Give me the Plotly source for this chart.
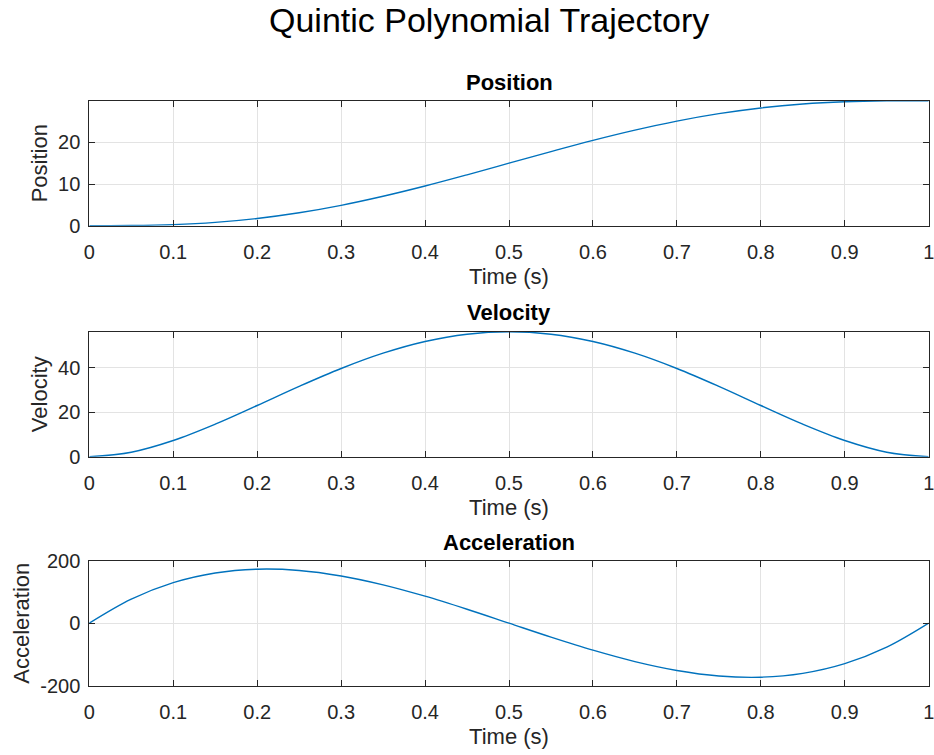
import plotly.graph_objects as go

# Time samples (s)
time_s = [0.00, 0.05, 0.10, 0.15, 0.20, 0.25, 0.30, 0.35, 0.40, 0.45, 0.50,
          0.55, 0.60, 0.65, 0.70, 0.75, 0.80, 0.85, 0.90, 0.95, 1.00]

position = [0.00, 0.03, 0.26, 0.80, 1.74, 3.11, 4.89, 7.06, 9.52, 12.21, 15.00,
            17.79, 20.48, 22.94, 25.11, 26.89, 28.26, 29.20, 29.74, 29.97, 30.00]

velocity = [0.00, 2.03, 7.29, 14.63, 23.04, 31.64, 39.69, 46.58, 51.84, 55.13, 56.25,
            55.13, 51.84, 46.58, 39.69, 31.64, 23.04, 14.63, 7.29, 2.03, 0.00]

acceleration = [0.0, 76.9, 129.6, 160.6, 172.8, 168.8, 151.2, 122.8, 86.4, 44.6, 0.0,
                -44.6, -86.4, -122.8, -151.2, -168.8, -172.8, -160.6, -129.6, -76.9, 0.0]

x_ticks = [0, 0.1, 0.2, 0.3, 0.4, 0.5, 0.6, 0.7, 0.8, 0.9, 1]
x_tick_labels = ["0", "0.1", "0.2", "0.3", "0.4", "0.5", "0.6", "0.7", "0.8", "0.9", "1"]

pos_ticks = [0, 10, 20]
vel_ticks = [0, 20, 40]
acc_ticks = [-200, 0, 200]

panels = [
    ("Position", position, [0, 30], pos_ticks),
    ("Velocity", velocity, [0, 56.25], vel_ticks),
    ("Acceleration", acceleration, [-200, 200], acc_ticks),
]

W, H = 934, 755
FONT = "Liberation Sans, Arial, Helvetica, sans-serif"
AX = "#262626"
LINE = "#0072BD"
GRID = "#e3e3e3"

# pixel boxes of the three axes (top, bottom)
boxes = [(100.7, 225.7), (331.7, 456.7), (560.7, 685.7)]
x_left, x_right = 89.3, 928.7
title_y = [82.5, 312.5, 542.5]

fig = go.Figure()
layout = dict(
    width=W, height=H,
    margin=dict(l=0, r=0, t=0, b=0, autoexpand=False),
    paper_bgcolor="white", plot_bgcolor="white",
    showlegend=False,
    font=dict(family=FONT, color=AX, size=20),
    annotations=[],
)

for i, (name, vals, yr, yt) in enumerate(panels):
    n = "" if i == 0 else str(i + 1)
    fig.add_trace(go.Scatter(
        x=time_s, y=vals, mode="lines",
        line=dict(color=LINE, width=1.4, shape="spline", smoothing=1.0),
        xaxis="x" + n, yaxis="y" + n, hoverinfo="skip",
    ))
    top, bot = boxes[i]
    common = dict(
        showline=True, linecolor=AX, linewidth=1, mirror="allticks",
        ticks="inside", ticklen=6, tickcolor=AX, tickwidth=1,
        showgrid=True, gridcolor=GRID, gridwidth=1, zeroline=False,
        tickfont=dict(family=FONT, size=20, color=AX),
        automargin=False, ticklabeloverflow="allow",
    )
    layout["xaxis" + n] = dict(
        common, domain=[x_left / W, x_right / W], range=[0, 1],
        tickvals=x_ticks, ticktext=x_tick_labels, anchor="y" + n,
        ticklabelstandoff=8,
        title=dict(text="Time (s)", font=dict(family=FONT, size=22, color=AX), standoff=6),
    )
    layout["yaxis" + n] = dict(
        common, domain=[(H - bot) / H, (H - top) / H], range=yr,
        tickvals=yt, ticktext=[str(v) for v in yt], anchor="x" + n, ticklabelstandoff=4,
        title=dict(text=name, font=dict(family=FONT, size=22, color=AX), standoff=4),
    )
    layout["annotations"].append(dict(
        text="<b>" + name + "</b>", x=(x_left + x_right) / 2 / W, y=(H - title_y[i]) / H,
        xref="paper", yref="paper", xanchor="center", yanchor="middle",
        showarrow=False, font=dict(family=FONT, size=22, color="black"),
    ))

layout["annotations"].append(dict(
    text="Quintic Polynomial Trajectory", x=489 / W, y=(H - 20) / H,
    xref="paper", yref="paper", xanchor="center", yanchor="middle",
    showarrow=False, font=dict(family=FONT, size=34, color="black"),
))

fig.update_layout(**layout)
fig.write_html("out.html")
